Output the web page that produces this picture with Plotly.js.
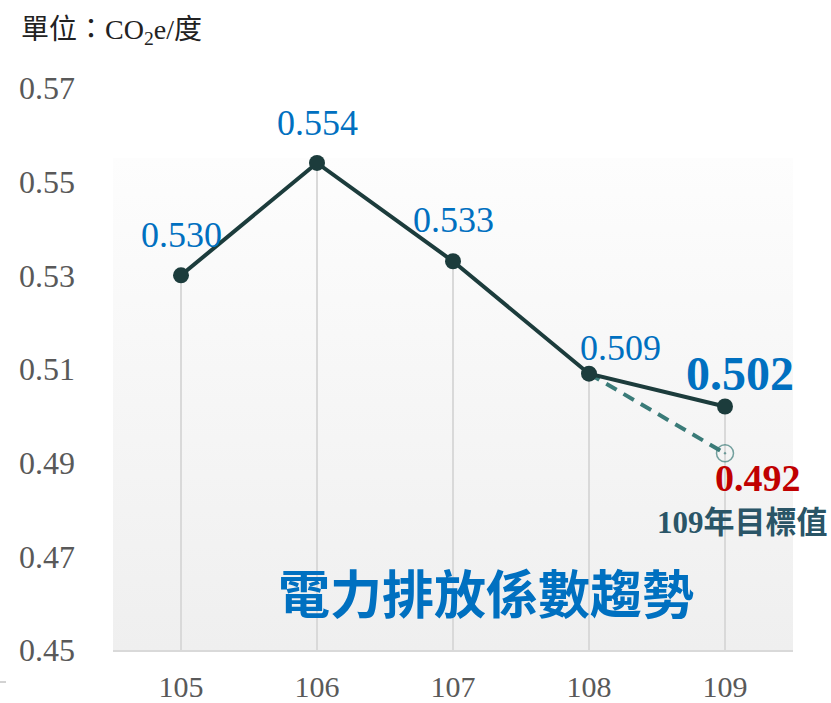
<!DOCTYPE html>
<html>
<head>
<meta charset="utf-8">
<script src="https://cdn.plot.ly/plotly-3.0.1.min.js"></script>
<style>html,body{margin:0;padding:0;background:#fff;}#chart{width:831px;height:703px;}</style>
</head>
<body>
<div id="chart"></div>
<script>
// ---- data ----
const years = [105, 106, 107, 108, 109];
const factors = [0.530, 0.554, 0.533, 0.509, 0.502];
const targetYears = [108, 109];
const targetValues = [0.509, 0.492];
const targetLabel = '109年目標值';
const yTicks = [0.45, 0.47, 0.49, 0.51, 0.53, 0.55, 0.57];
const chartTitle = '電力排放係數趨勢';

const yMin = 0.45, yMax = 0.57;

// gradient background image (svg)
const gradSvg = '<svg xmlns="http://www.w3.org/2000/svg" width="100" height="100" preserveAspectRatio="none">' +
  '<defs><linearGradient id="g" x1="0" y1="0" x2="0" y2="1">' +
  '<stop offset="0" stop-color="#fdfdfd"/><stop offset="1" stop-color="#efefef"/></linearGradient></defs>' +
  '<rect width="100" height="100" fill="url(#g)"/></svg>';
const gradUri = 'data:image/svg+xml;charset=utf-8,' + encodeURIComponent(gradSvg);

const dropTrace = {
  x: years, y: factors, type: 'scatter', mode: 'markers',
  marker: {size: 1, color: 'rgba(0,0,0,0)'},
  error_y: {type: 'data', symmetric: false, array: years.map(() => 0),
            arrayminus: factors.map(v => v - yMin), color: '#d9d9d9', thickness: 2, width: 0},
  hoverinfo: 'skip', showlegend: false
};

const targetTrace = {
  x: targetYears, y: targetValues, type: 'scatter', mode: 'lines+markers',
  line: {color: '#3a7b78', width: 4, dash: '12px,8px'},
  marker: {size: [0, 17], symbol: 'circle-open-dot', color: '#3a7b78', line: {width: 1.5}},
  showlegend: false, hoverinfo: 'skip'
};

const mainTrace = {
  x: years, y: factors, type: 'scatter', mode: 'lines+markers',
  line: {color: '#1c3c3c', width: 4},
  marker: {size: 16, color: '#1c3c3c'},
  showlegend: false
};

const serif = 'Liberation Serif, Times New Roman, serif';
const cjk = 'Noto Sans CJK TC, Noto Sans CJK SC, sans-serif';

const labelShifts = [[0, 40], [0, 40], [0, 41], [31, 26], [15, 33]];
const annotations = years.map((yr, i) => {
  const last = i === years.length - 1;
  return {
    x: yr, y: factors[i], xref: 'x', yref: 'y',
    text: last ? '<b>' + factors[i].toFixed(3) + '</b>' : factors[i].toFixed(3),
    showarrow: false, xanchor: 'center', yanchor: 'middle',
    xshift: labelShifts[i][0], yshift: labelShifts[i][1],
    font: {family: serif, size: last ? 48 : 36, color: '#0070c0'}
  };
});
annotations.push({
  x: targetYears[1], y: targetValues[1], xref: 'x', yref: 'y',
  text: '<b>' + targetValues[1].toFixed(3) + '</b>', showarrow: false,
  xanchor: 'center', yanchor: 'middle', xshift: 33, yshift: -25,
  font: {family: serif, size: 38, color: '#c00000'}
});
annotations.push({
  x: targetYears[1], y: targetValues[1], xref: 'x', yref: 'y',
  text: '<b><span style="font-family:Liberation Serif">109</span>' + targetLabel.slice(3) + '</b>', showarrow: false,
  xanchor: 'center', yanchor: 'middle', xshift: 17, yshift: -66,
  font: {family: cjk, size: 31, color: '#2a5567'}
});
annotations.push({
  x: (486 - 113) / 680, y: (650 - 591) / 562, xref: 'paper', yref: 'paper',
  text: '<b>' + chartTitle + '</b>', showarrow: false, xanchor: 'center', yanchor: 'middle',
  font: {family: cjk, size: 52, color: '#0070c0'}
});
annotations.push({
  x: (19 - 113) / 680, y: (650 - 28) / 562, xref: 'paper', yref: 'paper',
  text: '<span style="font-family:Noto Sans CJK TC">單位：</span>CO<sub>2</sub>e/<span style="font-family:Noto Sans CJK TC">度</span>',
  showarrow: false, xanchor: 'left', yanchor: 'middle',
  font: {family: serif, size: 28, color: '#222222'}
});

const layout = {
  width: 831, height: 703,
  margin: {l: 113, r: 38, t: 88, b: 53, pad: 0},
  paper_bgcolor: '#ffffff', plot_bgcolor: 'rgba(0,0,0,0)',
  xaxis: {
    range: [104.5, 109.5], tickvals: years, ticktext: years.map(String),
    showgrid: false, zeroline: false, showline: true, linecolor: '#d9d9d9', linewidth: 2,
    ticks: '', ticklabelstandoff: 9,
    tickfont: {family: serif, size: 30, color: '#595959'}, fixedrange: true
  },
  yaxis: {
    range: [yMin, yMax], tickvals: yTicks, ticktext: yTicks.map(v => v.toFixed(2)),
    showgrid: false, zeroline: false, showline: false, ticks: '', ticklabelstandoff: 37,
    tickfont: {family: serif, size: 32, color: '#595959'}, fixedrange: true
  },
  images: [{
    source: gradUri, xref: 'paper', yref: 'paper', x: 0, y: (650 - 158) / 562,
    sizex: 1, sizey: (650 - 158) / 562, sizing: 'stretch', xanchor: 'left', yanchor: 'top',
    layer: 'below'
  }],
  shapes: [{
    type: 'line', xref: 'paper', yref: 'paper', x0: -113 / 680, x1: -107 / 680,
    y0: (650 - 682) / 562, y1: (650 - 682) / 562, line: {color: '#a6a6a6', width: 1}
  }],
  annotations: annotations,
  showlegend: false
};

Plotly.newPlot('chart', [dropTrace, targetTrace, mainTrace], layout, {displayModeBar: false, staticPlot: true});
</script>
</body>
</html>
